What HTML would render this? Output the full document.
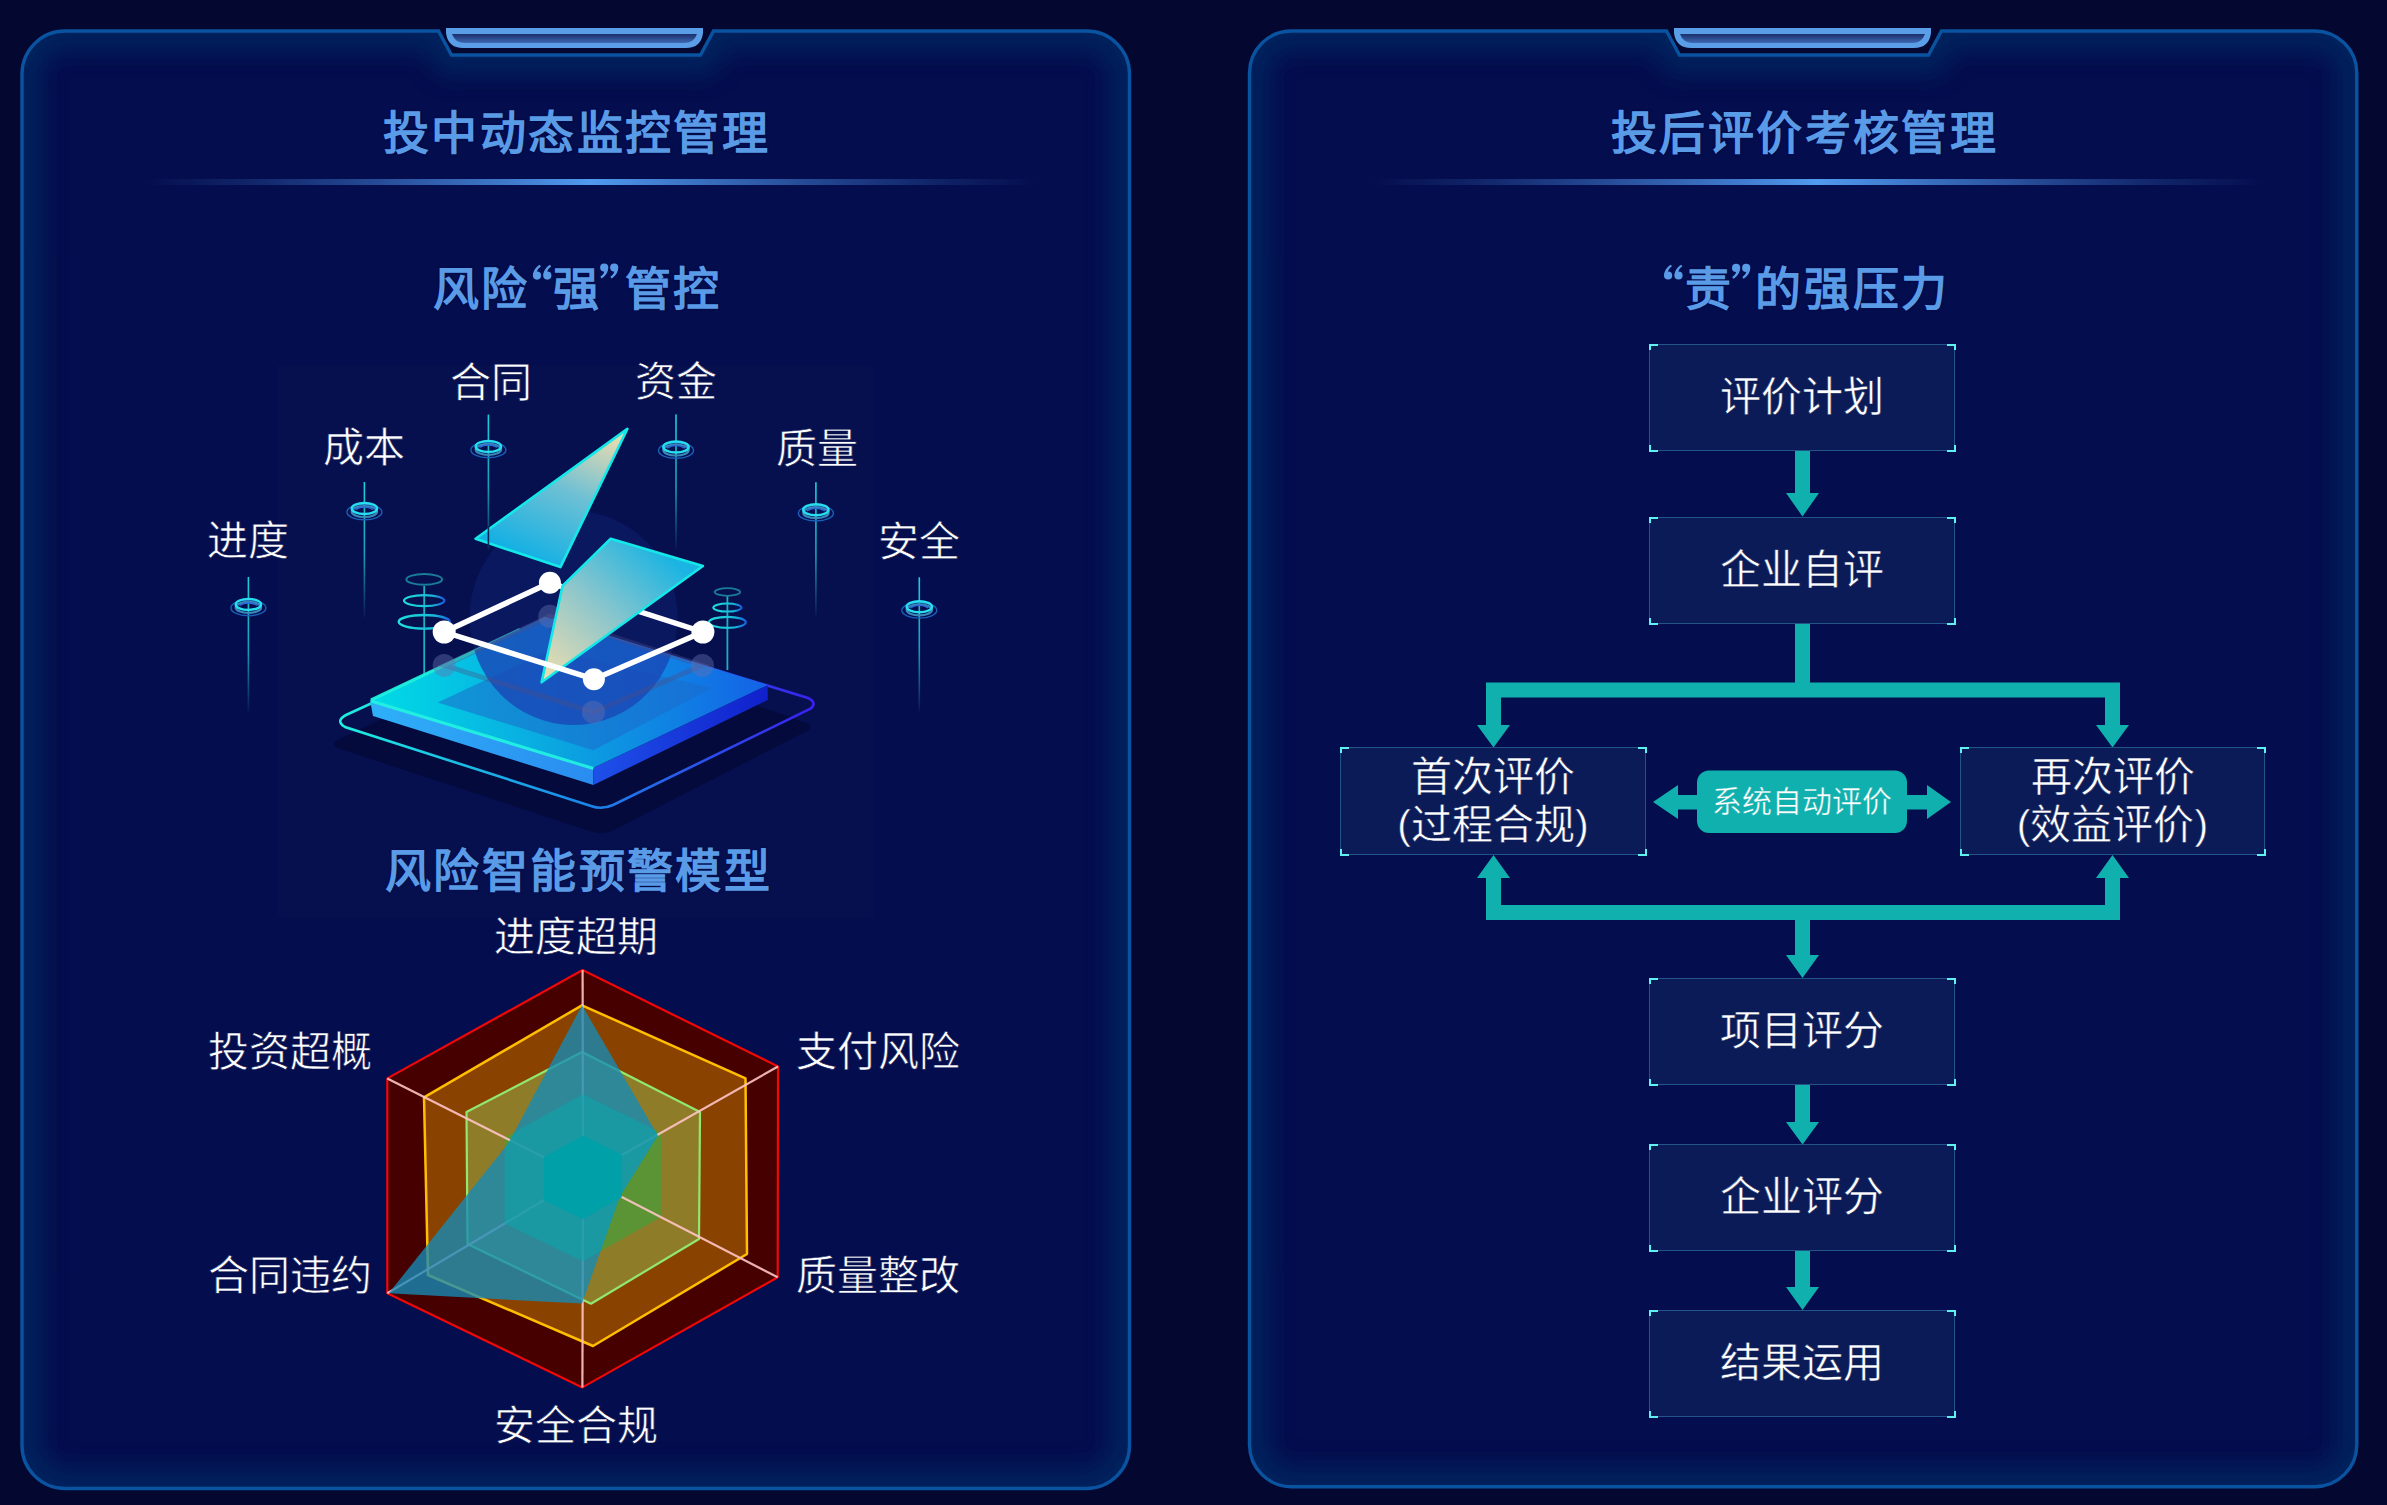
<!DOCTYPE html>
<html lang="zh-CN"><head><meta charset="utf-8">
<style>
html,body{margin:0;padding:0;}
body{width:2387px;height:1505px;background:#040730;position:relative;overflow:hidden;font-family:"Liberation Sans",sans-serif;}
.t{position:absolute;white-space:nowrap;line-height:1;z-index:3;}
.title{font-size:46px;font-weight:bold;color:#5a9be8;letter-spacing:2.4px;text-shadow:0 0 2px #01053a;}
.lab{font-size:41px;color:#ffffff;-webkit-text-stroke:0.6px #06104f;}
.box{position:absolute;background:#0b1b58;border:1.5px solid #22548a;box-sizing:border-box;}
.box .c{position:absolute;width:7px;height:4.5px;border-color:#5ff0f0;border-style:solid;border-width:0;}
.box .tl{left:-1.5px;top:-1.5px;border-left-width:2px;border-top-width:2px;}
.box .tr{right:-1.5px;top:-1.5px;border-right-width:2px;border-top-width:2px;}
.box .bl{left:-1.5px;bottom:-1.5px;border-left-width:2px;border-bottom-width:2px;}
.box .br{right:-1.5px;bottom:-1.5px;border-right-width:2px;border-bottom-width:2px;}
.box .tx{position:absolute;left:0;right:0;text-align:center;color:#fff;font-size:41px;line-height:48px;-webkit-text-stroke:0.5px #0b1b58;}
</style></head><body>
<!-- PANELS -->
<svg id="frames" width="2387" height="1505" style="position:absolute;left:0;top:0">
<defs>
  <filter id="blur1" x="-5%" y="-5%" width="110%" height="110%"><feGaussianBlur stdDeviation="12"/></filter>
  <clipPath id="clipL"><path d="M65,31 H438.5 L451.5,55 H700.5 L713.5,31 H1086.5 A43,43 0 0 1 1129.5,74 V1445.5 A43,43 0 0 1 1086.5,1488.5 H65 A43,43 0 0 1 22,1445.5 V74 A43,43 0 0 1 65,31 Z"/></clipPath>
  <clipPath id="clipR"><path d="M1291.5,31 H1666.5 L1679.5,55 H1928.5 L1941.5,31 H2314.8 A42,42 0 0 1 2356.8,73 V1444.7 A42,42 0 0 1 2314.8,1486.7 H1291.5 A42,42 0 0 1 1249.5,1444.7 V73 A42,42 0 0 1 1291.5,31 Z"/></clipPath>
  <linearGradient id="divg" x1="0" x2="1" y1="0" y2="0">
    <stop offset="0" stop-color="#4a8ee6" stop-opacity="0"/>
    <stop offset="0.12" stop-color="#4a8ee6" stop-opacity="0.18"/>
    <stop offset="0.25" stop-color="#4a8ee6" stop-opacity="0.45"/>
    <stop offset="0.5" stop-color="#509af0" stop-opacity="1"/>
    <stop offset="0.75" stop-color="#4a8ee6" stop-opacity="0.45"/>
    <stop offset="0.88" stop-color="#4a8ee6" stop-opacity="0.18"/>
    <stop offset="1" stop-color="#4a8ee6" stop-opacity="0"/>
  </linearGradient>
  <linearGradient id="tabg" x1="0" x2="0" y1="0" y2="1">
    <stop offset="0" stop-color="#1b2f6a"/>
    <stop offset="1" stop-color="#3d68b4"/>
  </linearGradient>
</defs>
<g id="pl">
  <path d="M65,31 H438.5 L451.5,55 H700.5 L713.5,31 H1086.5 A43,43 0 0 1 1129.5,74 V1445.5 A43,43 0 0 1 1086.5,1488.5 H65 A43,43 0 0 1 22,1445.5 V74 A43,43 0 0 1 65,31 Z" fill="#040d4d"/>
  <g clip-path="url(#clipL)"><path d="M65,31 H438.5 L451.5,55 H700.5 L713.5,31 H1086.5 A43,43 0 0 1 1129.5,74 V1445.5 A43,43 0 0 1 1086.5,1488.5 H65 A43,43 0 0 1 22,1445.5 V74 A43,43 0 0 1 65,31 Z" fill="none" stroke="#032661" stroke-width="40" filter="url(#blur1)" opacity="0.85"/></g>
  <path d="M65,31 H438.5 L451.5,55 H700.5 L713.5,31 H1086.5 A43,43 0 0 1 1129.5,74 V1445.5 A43,43 0 0 1 1086.5,1488.5 H65 A43,43 0 0 1 22,1445.5 V74 A43,43 0 0 1 65,31 Z" fill="none" stroke="#0a53a0" stroke-width="3.4"/>
  <rect x="140" y="179" width="900" height="6" fill="url(#divg)"/>
  <path d="M446,28 H703 V33 Q701,48 686,48 H463 Q448,48 446,33 Z" fill="#5a9ee8"/>
  <path d="M452,34 H697 Q694,43 684,43 H465 Q455,43 452,34 Z" fill="url(#tabg)"/>
</g>
<g id="pr">
  <path d="M1291.5,31 H1666.5 L1679.5,55 H1928.5 L1941.5,31 H2314.8 A42,42 0 0 1 2356.8,73 V1444.7 A42,42 0 0 1 2314.8,1486.7 H1291.5 A42,42 0 0 1 1249.5,1444.7 V73 A42,42 0 0 1 1291.5,31 Z" fill="#040d4d"/>
  <g clip-path="url(#clipR)"><path d="M1291.5,31 H1666.5 L1679.5,55 H1928.5 L1941.5,31 H2314.8 A42,42 0 0 1 2356.8,73 V1444.7 A42,42 0 0 1 2314.8,1486.7 H1291.5 A42,42 0 0 1 1249.5,1444.7 V73 A42,42 0 0 1 1291.5,31 Z" fill="none" stroke="#032661" stroke-width="40" filter="url(#blur1)" opacity="0.85"/></g>
  <path d="M1291.5,31 H1666.5 L1679.5,55 H1928.5 L1941.5,31 H2314.8 A42,42 0 0 1 2356.8,73 V1444.7 A42,42 0 0 1 2314.8,1486.7 H1291.5 A42,42 0 0 1 1249.5,1444.7 V73 A42,42 0 0 1 1291.5,31 Z" fill="none" stroke="#0a53a0" stroke-width="3.4"/>
  <rect x="1368" y="179" width="900" height="6" fill="url(#divg)"/>
  <path d="M1674,28 H1931 V33 Q1929,48 1914,48 H1691 Q1676,48 1674,33 Z" fill="#5a9ee8"/>
  <path d="M1680,34 H1925 Q1922,43 1912,43 H1693 Q1683,43 1680,34 Z" fill="url(#tabg)"/>
</g>
</svg>

<!-- TITLES -->
<div class="t title" style="left:383px;top:110px">投中动态监控管理</div>
<div class="t title" style="left:432.5px;top:266px">风险</div>
<div class="t title" style="left:553px;top:266px">强</div>
<div class="t title" style="left:625px;top:266px">管控</div>

<div class="t title" style="left:385px;top:848px">风险智能预警模型</div>
<div class="t title" style="left:1611px;top:110px">投后评价考核管理</div>
<div class="t title" style="left:1685px;top:266px">责</div>
<div class="t title" style="left:1755px;top:266px;letter-spacing:2.8px">的强压力</div>
<svg width="2387" height="400" style="position:absolute;left:0;top:0;z-index:3"><g fill="#5a9be8"><circle cx="537" cy="275.6" r="4.1"/><path d="M533.1,274.8 C533.4,270.1 536.5,266.6 539.6,264.8 L540.9,266.40000000000003 C538.6,268.0 537.2,269.8 537,271.70000000000005 Z"/><circle cx="547.3" cy="275.6" r="4.1"/><path d="M543.4,274.8 C543.6999999999999,270.1 546.8,266.6 549.9,264.8 L551.1999999999999,266.40000000000003 C548.9,268.0 547.5,269.8 547.3,271.70000000000005 Z"/><circle cx="604.2" cy="267.6" r="4.1"/><path d="M608.1,268.40000000000003 C607.8000000000001,273.1 604.7,276.6 601.6,278.40000000000003 L600.3000000000001,276.8 C602.6,275.20000000000005 604.0,273.40000000000003 604.2,271.5 Z"/><circle cx="614.2" cy="267.6" r="4.1"/><path d="M618.1,268.40000000000003 C617.8000000000001,273.1 614.7,276.6 611.6,278.40000000000003 L610.3000000000001,276.8 C612.6,275.20000000000005 614.0,273.40000000000003 614.2,271.5 Z"/><circle cx="1668.1" cy="275.5" r="4.1"/><path d="M1664.1999999999998,274.7 C1664.5,270.0 1667.6,266.5 1670.6999999999998,264.7 L1672.0,266.3 C1669.6999999999998,267.9 1668.3,269.7 1668.1,271.6 Z"/><circle cx="1678.5" cy="275.5" r="4.1"/><path d="M1674.6,274.7 C1674.9,270.0 1678.0,266.5 1681.1,264.7 L1682.4,266.3 C1680.1,267.9 1678.7,269.7 1678.5,271.6 Z"/><circle cx="1736.1" cy="267.9" r="4.1"/><path d="M1740.0,268.7 C1739.6999999999998,273.4 1736.6,276.9 1733.5,278.7 L1732.1999999999998,277.09999999999997 C1734.5,275.5 1735.8999999999999,273.7 1736.1,271.79999999999995 Z"/><circle cx="1746.2" cy="267.9" r="4.1"/><path d="M1750.1000000000001,268.7 C1749.8,273.4 1746.7,276.9 1743.6000000000001,278.7 L1742.3,277.09999999999997 C1744.6000000000001,275.5 1746.0,273.7 1746.2,271.79999999999995 Z"/></g></svg>


<!-- ILLUSTRATION PLACEHOLDER -->
<div id="illus"><svg width="2387" height="1505" style="position:absolute;left:0;top:0">
<defs>
 <linearGradient id="pinline" x1="0" y1="0" x2="0" y2="1">
  <stop offset="0" stop-color="#1ad0dc"/><stop offset="0.55" stop-color="#1a9cb8"/><stop offset="1" stop-color="#0a1850"/>
 </linearGradient>
 <linearGradient id="ringg" x1="0" y1="0" x2="1" y2="0">
  <stop offset="0" stop-color="#1ef0e0"/><stop offset="0.5" stop-color="#1a8ae8"/><stop offset="1" stop-color="#3a20f0"/>
 </linearGradient>
 <linearGradient id="topface" x1="370" y1="700" x2="768" y2="685" gradientUnits="userSpaceOnUse">
  <stop offset="0" stop-color="#00dce6"/><stop offset="0.45" stop-color="#0aa8e0"/><stop offset="1" stop-color="#1462e6"/>
 </linearGradient>
 <linearGradient id="leftface" x1="370" y1="0" x2="594" y2="0" gradientUnits="userSpaceOnUse">
  <stop offset="0" stop-color="#2eb0f8"/><stop offset="1" stop-color="#2a8cf0"/>
 </linearGradient>
 <linearGradient id="rightface" x1="594" y1="0" x2="768" y2="0" gradientUnits="userSpaceOnUse">
  <stop offset="0" stop-color="#1e50e8"/><stop offset="1" stop-color="#1020cc"/>
 </linearGradient>
 <linearGradient id="bolt1" x1="600" y1="435" x2="540" y2="565" gradientUnits="userSpaceOnUse">
  <stop offset="0" stop-color="#e2dab2"/><stop offset="0.45" stop-color="#6ec0d4"/><stop offset="1" stop-color="#12b0e4"/>
 </linearGradient>
 <linearGradient id="bolt2" x1="660" y1="550" x2="548" y2="675" gradientUnits="userSpaceOnUse">
  <stop offset="0" stop-color="#1cb4e2"/><stop offset="0.5" stop-color="#8cc6cc"/><stop offset="1" stop-color="#e8dcb0"/>
 </linearGradient>
 <linearGradient id="stackg" x1="0" y1="0" x2="1" y2="0">
  <stop offset="0" stop-color="#1ee0dc"/><stop offset="0.7" stop-color="#18b8d8"/><stop offset="1" stop-color="#1a60e0"/>
 </linearGradient>
</defs>
<rect x="277" y="365.5" width="597" height="553" fill="#07104f"/>
<!-- shadow -->
<path d="M338,744 L590,827 Q600,831 611,827 L806,727 L560,640 Z" fill="#040a3c" stroke="#040a3c" stroke-width="8" stroke-linejoin="round"/>
<!-- outline ring -->
<path d="M346,715 L553,620 L808,698 Q818,703 810,709 L613,805 Q602,810 591,806 L345,727 Q335,721 346,715 Z" fill="none" stroke="url(#ringg)" stroke-width="2.6"/>
<rect x="247.6" y="577.0" width="1.6" height="134.0" fill="url(#pinline)"/>
<ellipse cx="248.4" cy="607.9" rx="17.5" ry="7.8" fill="none" stroke="#1a5fb8" stroke-width="1.4"/>
<ellipse cx="248.4" cy="607.4" rx="12.7" ry="5.5" fill="none" stroke="#3a88b8" stroke-width="2.2"/>
<ellipse cx="248.4" cy="604.4" rx="12.7" ry="5.5" fill="none" stroke="#26def0" stroke-width="2.4"/>
<path d="M239.4,605.4 Q248.4,600.4 257.4,605.4" fill="none" stroke="#2a6ad8" stroke-width="1.6"/>
<rect x="363.6" y="482.0" width="1.6" height="135.0" fill="url(#pinline)"/>
<ellipse cx="364.4" cy="512.0" rx="17.5" ry="7.8" fill="none" stroke="#1a5fb8" stroke-width="1.4"/>
<ellipse cx="364.4" cy="511.5" rx="12.7" ry="5.5" fill="none" stroke="#3a88b8" stroke-width="2.2"/>
<ellipse cx="364.4" cy="508.5" rx="12.7" ry="5.5" fill="none" stroke="#26def0" stroke-width="2.4"/>
<path d="M355.4,509.5 Q364.4,504.5 373.4,509.5" fill="none" stroke="#2a6ad8" stroke-width="1.6"/>
<rect x="487.6" y="414.6" width="1.6" height="134.9" fill="url(#pinline)"/>
<ellipse cx="488.4" cy="449.9" rx="17.5" ry="7.8" fill="none" stroke="#1a5fb8" stroke-width="1.4"/>
<ellipse cx="488.4" cy="449.4" rx="12.7" ry="5.5" fill="none" stroke="#3a88b8" stroke-width="2.2"/>
<ellipse cx="488.4" cy="446.4" rx="12.7" ry="5.5" fill="none" stroke="#26def0" stroke-width="2.4"/>
<path d="M479.4,447.4 Q488.4,442.4 497.4,447.4" fill="none" stroke="#2a6ad8" stroke-width="1.6"/>
<rect x="675.2" y="414.4" width="1.6" height="134.6" fill="url(#pinline)"/>
<ellipse cx="676" cy="450.5" rx="17.5" ry="7.8" fill="none" stroke="#1a5fb8" stroke-width="1.4"/>
<ellipse cx="676" cy="450" rx="12.7" ry="5.5" fill="none" stroke="#3a88b8" stroke-width="2.2"/>
<ellipse cx="676" cy="447" rx="12.7" ry="5.5" fill="none" stroke="#26def0" stroke-width="2.4"/>
<path d="M667,448 Q676,443 685,448" fill="none" stroke="#2a6ad8" stroke-width="1.6"/>
<rect x="815.1" y="482.2" width="1.6" height="134.4" fill="url(#pinline)"/>
<ellipse cx="815.9" cy="513.2" rx="17.5" ry="7.8" fill="none" stroke="#1a5fb8" stroke-width="1.4"/>
<ellipse cx="815.9" cy="512.7" rx="12.7" ry="5.5" fill="none" stroke="#3a88b8" stroke-width="2.2"/>
<ellipse cx="815.9" cy="509.7" rx="12.7" ry="5.5" fill="none" stroke="#26def0" stroke-width="2.4"/>
<path d="M806.9,510.7 Q815.9,505.7 824.9,510.7" fill="none" stroke="#2a6ad8" stroke-width="1.6"/>
<rect x="918.5" y="577.3" width="1.6" height="133.7" fill="url(#pinline)"/>
<ellipse cx="919.3" cy="610.3" rx="17.5" ry="7.8" fill="none" stroke="#1a5fb8" stroke-width="1.4"/>
<ellipse cx="919.3" cy="609.8" rx="12.7" ry="5.5" fill="none" stroke="#3a88b8" stroke-width="2.2"/>
<ellipse cx="919.3" cy="606.8" rx="12.7" ry="5.5" fill="none" stroke="#26def0" stroke-width="2.4"/>
<path d="M910.3,607.8 Q919.3,602.8 928.3,607.8" fill="none" stroke="#2a6ad8" stroke-width="1.6"/>

<!-- stacked rings lines -->
<line x1="424.2" y1="586" x2="424.2" y2="690" stroke="#1ab0c0" stroke-width="1.8"/>
<line x1="727.4" y1="596" x2="727.4" y2="670" stroke="#1ab0c0" stroke-width="1.8"/>
<ellipse cx="424.2" cy="579.4" rx="17.8" ry="5.3" fill="none" stroke="#1a7c98" stroke-width="2"/>
<ellipse cx="424.2" cy="600.6" rx="20.2" ry="5.5" fill="none" stroke="url(#stackg)" stroke-width="2.2"/>
<ellipse cx="424.2" cy="621.8" rx="25.5" ry="6.8" fill="none" stroke="url(#stackg)" stroke-width="2.4"/>
<ellipse cx="727.4" cy="592" rx="12.7" ry="3.8" fill="none" stroke="#1a7c98" stroke-width="1.8"/>
<ellipse cx="727.4" cy="607.6" rx="14.1" ry="4" fill="none" stroke="url(#stackg)" stroke-width="2"/>
<ellipse cx="727.4" cy="622.3" rx="18.4" ry="5.5" fill="none" stroke="url(#stackg)" stroke-width="2.2"/>
<!-- platform -->
<polygon points="370,700 593.4,767.8 593.4,785 373,716" fill="url(#leftface)"/>
<polygon points="593.4,767.8 767.7,685 767.7,700 593.4,785" fill="url(#rightface)"/>
<polygon points="370,700 545,617 767.7,685 593.4,767.8" fill="url(#topface)"/>
<polygon points="437.6,702.4 550,650 712,688 593.4,750.3" fill="#1b6ccc" opacity="0.55"/>
<line x1="371" y1="701" x2="593.4" y2="768.5" stroke="#22f2e2" stroke-width="3" opacity="0.95"/>
<line x1="371" y1="700" x2="520" y2="629.5" stroke="#1ef0dc" stroke-width="3.2" opacity="0.95"/>
<!-- big circle -->
<clipPath id="topclip"><polygon points="370,700 545,617 767.7,685 593.4,767.8"/></clipPath>
<ellipse cx="573.5" cy="618" rx="104" ry="107" fill="#1a3aa0" opacity="0.2"/>
<ellipse cx="573.5" cy="618" rx="104" ry="107" fill="#1a48b8" opacity="0.75" clip-path="url(#topclip)"/>
<!-- shadow square -->
<g stroke="#504a80" stroke-opacity="0.35" stroke-width="5" fill="none">
 <polygon points="444.2,665.4 549.8,616.3 702.4,665.4 593.4,712.2"/>
</g>
<g fill="#6472b0" opacity="0.42">
 <circle cx="444.2" cy="665.4" r="11.5"/><circle cx="702.4" cy="665.4" r="11.5"/><circle cx="549.8" cy="616.3" r="11.5"/><circle cx="593.4" cy="712.2" r="11.5"/>
</g>
<!-- upper bolt -->
<polygon points="627.4,428.9 475.6,538.8 560.4,567.1" fill="url(#bolt1)" stroke="#14e8e8" stroke-width="2.6" stroke-linejoin="round"/>
<line x1="488.4" y1="526" x2="488.4" y2="549" stroke="#0c2a58" stroke-width="1.6"/>
<!-- square back line -->
<line x1="549.9" y1="582.8" x2="702.9" y2="632" stroke="#fff" stroke-width="5.5"/>
<circle cx="549.9" cy="582.8" r="11" fill="#fff"/>
<!-- lower bolt -->
<polygon points="610.7,538.8 702.9,566 541.6,682.3 562.5,586" fill="url(#bolt2)" stroke="#14e8e8" stroke-width="2.6" stroke-linejoin="round"/>
<g stroke="#fff" stroke-width="5.5">
 <line x1="444.2" y1="632" x2="549.9" y2="582.8"/>
 <line x1="444.2" y1="632" x2="593.9" y2="679.2"/>
 <line x1="593.9" y1="679.2" x2="702.9" y2="632"/>
</g>
<g fill="#fff"><circle cx="444.2" cy="632" r="11.5"/><circle cx="702.9" cy="632" r="11.5"/><circle cx="593.9" cy="679.2" r="11"/></g>
</svg>
<div class="t lab" style="left:450px;top:362.5px">合同</div>
<div class="t lab" style="left:634.5px;top:362px">资金</div>
<div class="t lab" style="left:323px;top:428px">成本</div>
<div class="t lab" style="left:775.5px;top:428.5px">质量</div>
<div class="t lab" style="left:207px;top:521px">进度</div>
<div class="t lab" style="left:878px;top:521.5px">安全</div>
</div>

<!-- RADAR PLACEHOLDER -->
<div id="radar"><svg width="2387" height="1505" style="position:absolute;left:0;top:0">
<polygon points="582.6,970 778,1066.5 777.7,1277.3 582.4,1387.4 387.3,1293.3 387.3,1078.4" fill="#470000" stroke="#f00808" stroke-width="2.2" stroke-linejoin="round"/>
<polygon points="582,1005.3 745.5,1078.4 747,1254 593,1346 428,1275 424,1097.4" fill="#8a4200" stroke="#ffbf00" stroke-width="2.5" stroke-linejoin="round"/>
<polygon points="582,1052 700,1112 699,1239 591,1303.7 467.5,1244 466.5,1112" fill="#8f7c28" stroke="#90e870" stroke-width="2.2" stroke-linejoin="round"/>
<polygon points="582.84,1094.2 661.0,1132.8 660.88,1217.12 582.76,1261.16 504.72,1223.52 504.72,1137.56" fill="#5a9434"/>
<g stroke="#ffc4c4" stroke-width="2.2" stroke-opacity="0.9"><line x1="583" y1="1177" x2="582.6" y2="970"/><line x1="583" y1="1177" x2="778" y2="1066.5"/><line x1="583" y1="1177" x2="777.7" y2="1277.3"/><line x1="583" y1="1177" x2="582.4" y2="1387.4"/><line x1="583" y1="1177" x2="387.3" y2="1293.3"/><line x1="583" y1="1177" x2="387.3" y2="1078.4"/></g>
<polygon points="582,1005.3 657.8,1135.4 619.8,1196.8 582,1303.6 388.8,1293.3 508.7,1142.7" fill="rgb(20,140,185)" fill-opacity="0.78"/>
<clipPath id="cyclip"><polygon points="582,1005.3 657.8,1135.4 619.8,1196.8 582,1303.6 388.8,1293.3 508.7,1142.7"/></clipPath>
<polygon points="582.84,1094.2 661.0,1132.8 660.88,1217.12 582.76,1261.16 504.72,1223.52 504.72,1137.56" fill="#12a4a8" fill-opacity="0.55" clip-path="url(#cyclip)"/>

<polygon points="582.92,1135.6 622.0,1154.9 621.94,1197.06 582.88,1219.08 543.86,1200.26 543.86,1157.28" fill="#00a0a8"/>
</svg>
<div class="t lab" style="left:494px;top:917px">进度超期</div>
<div class="t lab" style="left:207.5px;top:1032px">投资超概</div>
<div class="t lab" style="left:795.5px;top:1032px">支付风险</div>
<div class="t lab" style="left:207.5px;top:1256px">合同违约</div>
<div class="t lab" style="left:795.5px;top:1256px">质量整改</div>
<div class="t lab" style="left:493.5px;top:1406px">安全合规</div>
</div>

<!-- FLOW PLACEHOLDER -->
<div id="flow">
<svg width="2387" height="1505" style="position:absolute;left:0;top:0">
<g fill="#0fb0ae">
  <!-- B1 -> B2 -->
  <path d="M1795,451 H1810 V493 H1819 L1802.5,516.5 L1786,493 H1795 Z"/>
  <!-- B2 -> bar -->
  <rect x="1795" y="624" width="15" height="66"/>
  <rect x="1486" y="682.5" width="634" height="15"/>
  <path d="M1486,690 H1501 V725 H1510 L1493.5,747.5 L1477,725 H1486 Z"/>
  <path d="M2105,690 H2120 V725 H2129 L2112.5,747.5 L2096,725 H2105 Z"/>
  <!-- bottom bar -->
  <rect x="1486" y="905" width="634" height="15"/>
  <path d="M1486,912 H1501 V878 H1510 L1493.5,855 L1477,878 H1486 Z"/>
  <path d="M2105,912 H2120 V878 H2129 L2112.5,855 L2096,878 H2105 Z"/>
  <path d="M1795,915 H1810 V955 H1819 L1802.5,978 L1786,955 H1795 Z"/>
  <path d="M1795,1085 H1810 V1122 H1819 L1802.5,1144.5 L1786,1122 H1795 Z"/>
  <path d="M1795,1251 H1810 V1287 H1819 L1802.5,1310 L1786,1287 H1795 Z"/>
  <!-- pill arrows -->
  <path d="M1700,795 V809.5 H1678 V819 L1653,802 L1678,785 V795 Z"/>
  <path d="M1904,795 V809.5 H1927 V819 L1951,802 L1927,785 V795 Z"/>
  <rect x="1697" y="770.5" width="210" height="62.5" rx="12"/>
</g>
</svg>
<div class="box" style="left:1649px;top:344px;width:306px;height:107px"><i class="c tl"></i><i class="c tr"></i><i class="c bl"></i><i class="c br"></i><div class="tx" style="top:27.5px">评价计划</div></div>
<div class="box" style="left:1649px;top:517px;width:306px;height:107px"><i class="c tl"></i><i class="c tr"></i><i class="c bl"></i><i class="c br"></i><div class="tx" style="top:27.5px">企业自评</div></div>
<div class="box" style="left:1649px;top:978px;width:306px;height:107px"><i class="c tl"></i><i class="c tr"></i><i class="c bl"></i><i class="c br"></i><div class="tx" style="top:27.5px">项目评分</div></div>
<div class="box" style="left:1649px;top:1144px;width:306px;height:107px"><i class="c tl"></i><i class="c tr"></i><i class="c bl"></i><i class="c br"></i><div class="tx" style="top:27.5px">企业评分</div></div>
<div class="box" style="left:1649px;top:1310px;width:306px;height:107px"><i class="c tl"></i><i class="c tr"></i><i class="c bl"></i><i class="c br"></i><div class="tx" style="top:27.5px">结果运用</div></div>
<div class="box" style="left:1340px;top:747px;width:306px;height:108px"><i class="c tl"></i><i class="c tr"></i><i class="c bl"></i><i class="c br"></i><div class="tx" style="top:4.5px">首次评价<br>(过程合规)</div></div>
<div class="box" style="left:1960px;top:747px;width:305px;height:108px"><i class="c tl"></i><i class="c tr"></i><i class="c bl"></i><i class="c br"></i><div class="tx" style="top:4.5px">再次评价<br>(效益评价)</div></div>
<div class="t" style="left:1697px;top:770px;width:210px;height:63px;line-height:63px;text-align:center;font-size:30px;color:#fff;-webkit-text-stroke:0.4px #0fb0ae">系统自动评价</div>
</div>
</body></html>
